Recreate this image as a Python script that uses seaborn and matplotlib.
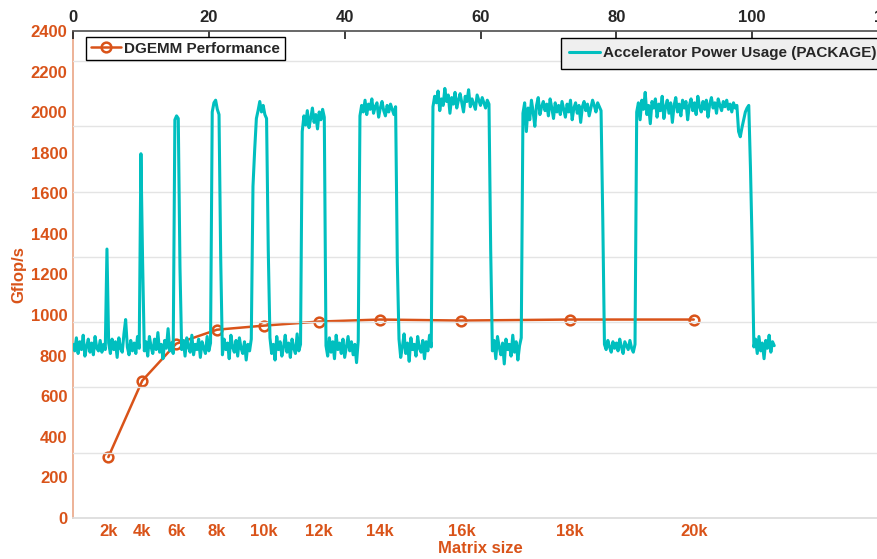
import matplotlib
matplotlib.use('Agg')
import matplotlib.pyplot as plt
import numpy as np
import seaborn as sns

# DGEMM runs: matrix size label, time (s) at which each run finished, Gflop/s
matrix_labels = ['2k', '4k', '6k', '8k', '10k', '12k', '14k', '16k', '18k', '20k']
run_time_s = [5.2, 10.2, 15.2, 21.2, 28.1, 36.2, 45.2, 57.2, 73.2, 91.4]
gflops = [300, 677, 859, 928, 948, 968, 978, 973, 978, 978]

# accelerator package power (W), one sample every 0.25 s
power_dt = 0.25
power_w = [
    133, 128, 138, 126, 135, 129, 140, 124, 131, 137, 127, 134, 125, 139, 130, 128, 136, 127, 133, 129,
    206, 134,
    126, 137, 129, 135, 123, 138, 130, 127, 141, 152, 131, 125, 136, 128, 134, 126, 139, 130,
    279, 196,
    128, 135, 124, 139, 131, 126, 137, 129, 142, 127, 133, 122, 136, 130, 145, 128, 134, 126,
    305, 308, 306, 192,
    129, 136, 124, 138, 131, 127, 140, 125, 133, 129, 137, 123, 135, 130, 126, 139, 128, 134,
    311, 318, 320, 313, 309, 198,
    125, 137, 129, 134, 122, 140, 131, 127, 136, 124, 138, 130, 126, 135, 121, 133, 128, 137,
    254, 282, 306, 312, 319, 311, 316, 309, 306, 205,
    138, 126, 133, 121, 139, 129, 135, 124, 131, 140, 127, 134, 123, 137, 130, 126, 141, 128, 133,
    296, 308, 301, 312, 299, 306, 314, 303, 309, 298, 311, 305, 313, 307,
    132, 124, 138, 127, 135, 122, 140, 129, 134, 126, 137, 123, 131, 139, 128, 135, 125, 133, 119, 136,
    308, 316, 311, 320, 309, 317, 313, 321, 310, 315, 318, 307, 314, 319, 312, 308, 316, 311, 317, 313,
    309, 315, 196,
    137, 123, 131, 141, 126, 134, 120, 138, 129, 133, 124, 139, 130, 127, 136, 122, 135, 128, 140, 131,
    315, 323, 318, 327, 312, 321, 316, 329, 319, 324, 310, 322, 317, 326, 314, 320, 325, 318, 311, 323,
    319, 328, 315, 321, 317, 313, 324, 320, 316, 322, 318, 314, 320, 317, 205,
    128, 136, 122, 139, 131, 125, 134, 118, 137, 129, 133, 124, 140, 127, 135, 121, 132, 138,
    310, 318, 296, 314, 305, 320, 311, 300, 316, 322, 309, 315, 319, 312, 317, 308, 321, 314, 306, 318,
    311, 316, 309, 319, 313, 307, 317, 311, 320, 305, 314, 318, 310, 316, 303, 315, 319, 312, 317, 308,
    314, 320, 316, 311, 318, 315, 312, 230,
    133, 129, 136, 131, 127, 135, 130, 134, 128, 137, 131, 126, 135, 132, 129, 136, 130, 127, 133,
    311, 318, 305, 320, 313, 326, 309, 316, 302, 319, 314, 321, 307, 317, 312, 323, 306, 315, 320, 310,
    318, 303, 316, 322, 311, 317, 308, 320, 314, 319, 305, 316, 321, 312, 318, 309, 323, 315, 311, 319,
    313, 320, 307, 317, 322, 314, 318, 310, 321, 316, 312, 319, 315, 320, 313, 317, 311, 318, 314, 316,
    296, 292, 299, 305, 311, 314, 316, 268, 208,
    131, 137, 126, 139, 128, 134, 122, 136, 130, 140, 127, 135, 132,
]
power_t = np.arange(len(power_w)) * power_dt

orange = '#D95319'
cyan = '#00BFBF'

sns.set_theme(style='white')
plt.rcParams['font.family'] = ['Liberation Sans', 'DejaVu Sans']
plt.rcParams['font.weight'] = 'bold'
plt.rcParams['axes.labelweight'] = 'bold'

fig = plt.figure(figsize=(8.77, 5.59), dpi=100)
rect = [73 / 877, 41 / 559, 815 / 877, 487 / 559]

# performance axes: left Gflop/s, bottom matrix size
ax1 = fig.add_axes(rect)
sns.lineplot(x=run_time_s, y=gflops, ax=ax1, color=orange, lw=1.8,
             marker='o', markersize=7, markerfacecolor='none',
             markeredgecolor=orange, markeredgewidth=1.8)
ax1.set_xlim(0, 120)
ax1.set_ylim(0, 2400)
ax1.set_yticks(range(0, 2401, 200))
ax1.set_xticks(run_time_s, matrix_labels)
ax1.set_xlabel('Matrix size', color=orange, fontsize=12, labelpad=2)
ax1.set_ylabel('Gflop/s', color=orange, fontsize=12, labelpad=3)
ax1.tick_params(direction='in', colors=orange, labelsize=12, length=5.5, width=1, pad=4)
ax1.spines['top'].set_visible(False)
ax1.spines['right'].set_visible(False)
ax1.spines['left'].set_color('#EBA98A')
ax1.spines['bottom'].set_color('#dcdcdc')

# power axes: top time, right power (its right side falls off the picture)
ax2 = fig.add_axes(rect)
ax2.patch.set_visible(False)
sns.lineplot(x=power_t, y=power_w, ax=ax2, color=cyan, lw=2.2)
ax2.set_xlim(0, 120)
ax2.set_ylim(0, 373)
ax2.set_yticks(range(0, 351, 50))
ax2.set_xticks(range(0, 121, 20))
ax2.xaxis.tick_top()
ax2.yaxis.tick_right()
ax2.grid(axis='y', color='#e4e4e4', lw=1)
ax2.grid(axis='x', visible=False)
ax2.tick_params(axis='x', direction='in', colors='#262626', labelsize=12, length=6, pad=4)
ax2.tick_params(axis='y', direction='in', length=0, labelright=False)
ax2.spines['left'].set_visible(False)
ax2.spines['bottom'].set_visible(False)
ax2.spines['top'].set_color('#555555')

leg1 = fig.legend(handles=[ax1.lines[0]], labels=['DGEMM Performance'], loc='upper left',
                  bbox_to_anchor=(86 / 877, 1 - 37 / 559), fontsize=11, frameon=True,
                  fancybox=False, edgecolor='black', framealpha=1, facecolor='white',
                  handlelength=2.0, handletextpad=0.2, borderpad=0.3, borderaxespad=0)
leg1.get_frame().set_linewidth(1.0)
leg2 = fig.legend(handles=[ax2.lines[0]], labels=['Accelerator Power Usage (PACKAGE)'],
                  loc='upper left', bbox_to_anchor=(561 / 877, 1 - 38 / 559), fontsize=11,
                  frameon=True, fancybox=False, edgecolor='black', framealpha=1,
                  facecolor='#efefef', handlelength=2.0, handletextpad=0.2,
                  borderpad=0.55, borderaxespad=0)
leg2.get_frame().set_linewidth(1.0)

fig.savefig('out.png', dpi=100)
